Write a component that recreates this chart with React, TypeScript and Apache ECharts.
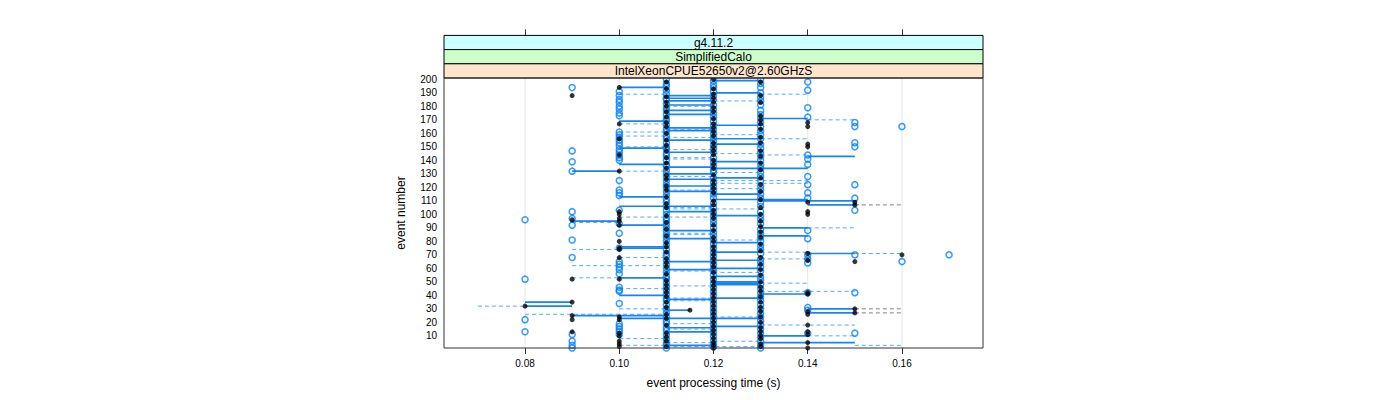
import React, { useEffect, useRef } from "react";
import * as echarts from "echarts";

// ---------- labels ----------
const stripLabels = ["g4.11.2", "SimplifiedCalo", "IntelXeonCPUE52650v2@2.60GHzS"];
const stripColors = ["#CCFFFF", "#CCFFCC", "#FFE5CC"];
const xTickValues = [0.08, 0.1, 0.12, 0.14, 0.16];
const yTickValues = [10, 20, 30, 40, 50, 60, 70, 80, 90, 100, 110, 120, 130, 140, 150, 160, 170, 180, 190, 200];
const xTitle = "event processing time (s)";
const yTitle = "event number";

// ---------- blue open circles: event numbers observed at each time (s) ----------
const blueAt080 = [96, 52, 22, 13];
const blueAt090 = [194, 147, 139, 132, 102, 97, 92, 81, 68, 11, 6, 3, 1];
const blueAt100 = [191, 188, 185, 183, 180, 178, 175, 173, 161, 159, 157, 155, 153, 151, 148, 146, 144, 142, 140, 125, 118, 116, 114, 103, 93, 86, 75, 65, 63, 61, 59, 56, 46, 44, 43, 34, 19, 17, 15, 13, 11];
const blueAt110 = [200, 197, 195, 192, 189, 186, 185, 182, 179, 177, 174, 171, 169, 166, 163, 161, 158, 156, 153, 150, 148, 145, 143, 140, 137, 136, 133, 130, 128, 125, 122, 120, 117, 114, 111, 109, 106, 103, 100, 97, 95, 93, 90, 88, 85, 83, 80, 77, 74, 71, 69, 66, 63, 60, 57, 54, 52, 49, 46, 44, 41, 38, 36, 33, 30, 27, 24, 21, 19, 16, 14, 11, 8, 5, 3, 1];
const blueAt120 = [199, 196, 194, 191, 188, 185, 181, 178, 175, 172, 169, 166, 163, 160, 157, 154, 151, 149, 146, 142, 139, 136, 133, 131, 127, 124, 121, 118, 115, 112, 108, 105, 102, 99, 96, 93, 90, 87, 84, 81, 78, 75, 72, 69, 66, 63, 60, 58, 55, 52, 49, 46, 43, 40, 37, 34, 31, 28, 25, 22, 19, 16, 13, 10, 7, 4, 2];
const blueAt130 = [200, 197, 194, 190, 187, 184, 181, 177, 174, 171, 168, 165, 162, 159, 156, 152, 149, 146, 143, 140, 137, 134, 131, 128, 125, 121, 118, 115, 112, 109, 106, 102, 99, 96, 93, 89, 86, 83, 80, 77, 74, 71, 67, 64, 61, 58, 54, 51, 48, 45, 42, 39, 36, 33, 30, 27, 24, 21, 18, 15, 12, 9, 6, 3, 1];
const blueAt140 = [198, 192, 179, 172, 144, 141, 137, 128, 122, 116, 112, 88, 82, 70, 67, 64, 42, 31, 29, 12];
const blueAt150 = [168, 165, 153, 150, 122, 112, 103, 70, 42, 12];
const blueAt160 = [165, 65];
const blueAt170 = [70];

// ---------- black filled dots ----------
const blackAt080 = [32];
const blackAt090 = [188, 96, 52, 35, 25, 22, 13];
const blackAt100 = [194, 167, 156, 144, 132, 102, 100, 97, 95, 92, 80, 75, 74, 68, 52, 24, 22, 12, 10, 6, 4, 2];
const blackAt110 = [198, 193, 187, 183, 180, 176, 172, 168, 165, 160, 155, 151, 147, 142, 138, 134, 129, 126, 121, 118, 113, 108, 105, 99, 94, 89, 84, 79, 76, 72, 67, 64, 61, 56, 51, 48, 45, 42, 39, 35, 31, 26, 23, 18, 12, 9, 6, 2];
const blackAt115 = [29];
const blackAt120 = [200, 193, 189, 186, 183, 179, 176, 171, 167, 164, 161, 158, 153, 150, 147, 144, 140, 137, 134, 129, 125, 122, 119, 116, 110, 107, 103, 100, 97, 92, 88, 83, 80, 76, 73, 70, 67, 64, 61, 57, 53, 50, 47, 44, 41, 38, 35, 32, 29, 26, 23, 20, 17, 14, 11, 8, 5, 3, 1];
const blackAt130 = [198, 188, 183, 173, 170, 167, 163, 157, 153, 147, 143, 138, 133, 127, 122, 117, 111, 105, 100, 95, 91, 87, 83, 78, 73, 68, 63, 59, 55, 50, 46, 43, 39, 35, 31, 28, 24, 20, 16, 13, 10, 8, 4, 2];
const blackAt140 = [168, 165, 152, 150, 109, 102, 100, 71, 66, 42, 41, 28, 26, 18, 13, 11, 5, 1];
const blackAt150 = [109, 107, 65, 30, 27];
const blackAt160 = [70];

// ---------- horizontal segments: [event, from time, to time] ----------
const solidSegments: [number, number, number][] = [
  [199, 0.12, 0.13], [194, 0.10, 0.11], [190, 0.12, 0.13], [188, 0.11, 0.12], [186, 0.11, 0.12], [184, 0.11, 0.12],
  [181, 0.11, 0.12], [177, 0.11, 0.12], [174, 0.11, 0.12], [171, 0.13, 0.14], [169, 0.10, 0.11], [166, 0.12, 0.13],
  [164, 0.11, 0.12], [162, 0.11, 0.12], [156, 0.12, 0.13], [155, 0.11, 0.12], [152, 0.12, 0.13], [149, 0.10, 0.11],
  [146, 0.11, 0.12], [143, 0.14, 0.15], [139, 0.12, 0.13], [137, 0.10, 0.11], [135, 0.11, 0.12], [134, 0.12, 0.14],
  [132, 0.09, 0.10], [130, 0.11, 0.12], [127, 0.12, 0.13], [126, 0.11, 0.12], [121, 0.11, 0.12], [117, 0.11, 0.12],
  [115, 0.12, 0.13], [113, 0.10, 0.11], [111, 0.12, 0.14], [110, 0.13, 0.15], [107, 0.14, 0.15], [106, 0.10, 0.12],
  [102, 0.11, 0.12], [99, 0.12, 0.13], [95, 0.09, 0.10], [92, 0.10, 0.11], [90, 0.13, 0.14], [88, 0.11, 0.12],
  [84, 0.13, 0.14], [82, 0.11, 0.12], [79, 0.12, 0.13], [76, 0.10, 0.11], [75, 0.10, 0.11], [72, 0.12, 0.13],
  [71, 0.14, 0.15], [66, 0.12, 0.13], [65, 0.11, 0.12], [60, 0.12, 0.13], [59, 0.11, 0.12], [54, 0.12, 0.13],
  [53, 0.10, 0.11], [50, 0.12, 0.13], [49, 0.12, 0.13], [48, 0.12, 0.13], [41, 0.13, 0.14], [40, 0.10, 0.11],
  [38, 0.12, 0.13], [37, 0.11, 0.12], [35, 0.08, 0.09], [32, 0.08, 0.09], [30, 0.14, 0.15], [29, 0.11, 0.115],
  [27, 0.14, 0.15], [25, 0.09, 0.11], [23, 0.10, 0.13], [17, 0.12, 0.13], [16, 0.11, 0.12], [13, 0.11, 0.12],
  [10, 0.13, 0.14], [5, 0.13, 0.15], [3, 0.11, 0.12],
];
const dashedSegments: [number, number, number][] = [
  [189, 0.13, 0.14], [189, 0.10, 0.11], [184, 0.12, 0.13], [180, 0.11, 0.12], [170, 0.14, 0.15], [167, 0.10, 0.11],
  [163, 0.11, 0.12], [161, 0.10, 0.11], [159, 0.12, 0.13], [158, 0.10, 0.11], [157, 0.11, 0.12], [156, 0.13, 0.14],
  [150, 0.10, 0.11], [148, 0.11, 0.12], [145, 0.12, 0.13], [144, 0.13, 0.14], [142, 0.11, 0.12], [141, 0.11, 0.12],
  [132, 0.10, 0.11], [131, 0.12, 0.13], [128, 0.11, 0.12], [125, 0.12, 0.14], [123, 0.12, 0.14], [119, 0.12, 0.13],
  [118, 0.11, 0.12], [105, 0.11, 0.12], [104, 0.11, 0.13], [98, 0.10, 0.12], [94, 0.09, 0.10], [90, 0.14, 0.15],
  [86, 0.11, 0.12], [85, 0.11, 0.12], [81, 0.12, 0.13], [74, 0.09, 0.10], [72, 0.13, 0.14], [71, 0.15, 0.16],
  [68, 0.10, 0.11], [67, 0.13, 0.14], [62, 0.09, 0.11], [58, 0.11, 0.12], [57, 0.12, 0.13], [53, 0.09, 0.10],
  [49, 0.13, 0.14], [47, 0.11, 0.12], [45, 0.10, 0.11], [43, 0.13, 0.15], [38, 0.11, 0.12], [36, 0.11, 0.12],
  [32, 0.07, 0.08], [30, 0.10, 0.11], [26, 0.08, 0.11], [24, 0.12, 0.13], [19, 0.11, 0.12], [18, 0.13, 0.15],
  [15, 0.11, 0.12], [10, 0.14, 0.15], [8, 0.10, 0.11], [6, 0.12, 0.13], [5, 0.11, 0.12], [3, 0.15, 0.16],
  [3, 0.10, 0.11], [2, 0.11, 0.13],
];
const grayDashedSegments: [number, number, number][] = [
  [107, 0.15, 0.16], [30, 0.15, 0.16], [27, 0.15, 0.16],
];

const blueColumns: [number, number[]][] = [
  [0.08, blueAt080], [0.09, blueAt090], [0.10, blueAt100], [0.11, blueAt110], [0.12, blueAt120],
  [0.13, blueAt130], [0.14, blueAt140], [0.15, blueAt150], [0.16, blueAt160], [0.17, blueAt170],
];
const blackColumns: [number, number[]][] = [
  [0.08, blackAt080], [0.09, blackAt090], [0.10, blackAt100], [0.11, blackAt110], [0.115, blackAt115],
  [0.12, blackAt120], [0.13, blackAt130], [0.14, blackAt140], [0.15, blackAt150], [0.16, blackAt160],
];

const toPoints = (cols: [number, number[]][]) =>
  cols.flatMap(([t, evs]) => evs.map((e) => [t, e]));

// ---------- layout ----------
const W = 1400;
const H = 400;
const PL = 444;
const PR = 983;
const PT = 78;
const PB = 348;
const STRIP_H = 14.2;
const XMIN = 0.0628;
const XMAX = 0.1772;
const YMIN = 1;
const YMAX = 201;
const FONT = "'Liberation Sans', Arial, Helvetica, sans-serif";

function segmentSeries(name: string, segs: [number, number, number][], stroke: string, width: number, dash: number[] | null) {
  return {
    type: "custom",
    name,
    coordinateSystem: "cartesian2d",
    xAxisIndex: 0,
    yAxisIndex: 0,
    clip: true,
    silent: true,
    data: segs.map(([e, a, b]) => [a, b, e]),
    encode: { x: [0, 1], y: 2 },
    renderItem: (_params: any, api: any) => {
      const p1 = api.coord([api.value(0), api.value(2)]);
      const p2 = api.coord([api.value(1), api.value(2)]);
      return {
        type: "line",
        shape: { x1: p1[0], y1: p1[1], x2: p2[0], y2: p2[1] },
        style: { stroke, lineWidth: width, lineDash: dash || undefined, fill: null },
      };
    },
  };
}

export default function App() {
  const ref = useRef<HTMLDivElement>(null);
  useEffect(() => {
    if (!ref.current) return;
    const chart = echarts.init(ref.current, null, { renderer: "svg", width: W, height: H });

    const stripGraphics: any[] = [];
    for (let i = 0; i < stripLabels.length; i++) {
      const top = PT - STRIP_H * (stripLabels.length - i);
      stripGraphics.push({
        type: "rect",
        shape: { x: PL, y: top, width: PR - PL, height: STRIP_H },
        style: { fill: stripColors[i], stroke: "#000", lineWidth: 1 },
        z: 10,
      });
      stripGraphics.push({
        type: "text",
        x: (PL + PR) / 2,
        y: top + STRIP_H / 2 + 0.5,
        style: {
          text: stripLabels[i],
          fill: "#000",
          font: `12px ${FONT}`,
          textAlign: "center",
          textVerticalAlign: "middle",
        },
        z: 11,
      });
    }
    stripGraphics.push({
      type: "rect",
      shape: { x: PL, y: PT, width: PR - PL, height: PB - PT },
      style: { fill: null, stroke: "#333", lineWidth: 1 },
      z: 12,
      silent: true,
    });

    const option: any = {
      animation: false,
      backgroundColor: "#fff",
      textStyle: { fontFamily: FONT },
      grid: { left: PL, right: W - PR, top: PT, bottom: H - PB, containLabel: false },
      xAxis: [
        {
          type: "value",
          min: XMIN,
          max: XMAX,
          position: "bottom",
          name: xTitle,
          nameLocation: "middle",
          nameGap: 29,
          nameTextStyle: { fontSize: 12, color: "#000", fontFamily: FONT },
          axisLine: { show: false },
          axisTick: { show: true, length: 6, customValues: xTickValues, lineStyle: { color: "#333" } },
          axisLabel: {
            customValues: xTickValues,
            margin: 10,
            fontSize: 10,
            color: "#000",
            fontFamily: FONT,
            formatter: (v: number) => v.toFixed(2),
          },
          splitLine: { show: false },
        },
        {
          type: "value",
          min: XMIN,
          max: XMAX,
          position: "top",
          offset: PT - (PT - STRIP_H * 3),
          axisLine: { show: false },
          axisTick: { show: true, length: 6, customValues: xTickValues, lineStyle: { color: "#333" } },
          axisLabel: { show: false },
          splitLine: { show: false },
        },
      ],
      yAxis: [
        {
          type: "value",
          min: YMIN,
          max: YMAX,
          name: yTitle,
          nameLocation: "middle",
          nameGap: 37,
          nameRotate: 90,
          nameTextStyle: { fontSize: 12, color: "#000", fontFamily: FONT },
          axisLine: { show: false },
          axisTick: { show: false },
          axisLabel: {
            customValues: yTickValues,
            margin: 7,
            fontSize: 10,
            color: "#000",
            fontFamily: FONT,
          },
          splitLine: { show: false },
        },
      ],
      graphic: stripGraphics,
      series: [
        {
          type: "custom",
          name: "grid",
          coordinateSystem: "cartesian2d",
          silent: true,
          data: xTickValues.map((t) => [t, YMIN]),
          encode: { x: 0, y: 1 },
          renderItem: (_p: any, api: any) => {
            const a = api.coord([api.value(0), YMIN]);
            const b = api.coord([api.value(0), YMAX]);
            return {
              type: "line",
              shape: { x1: a[0], y1: a[1], x2: b[0], y2: b[1] },
              style: { stroke: "#e6e6e6", lineWidth: 1 },
            };
          },
          z: 1,
        },
        { ...segmentSeries("dashed", dashedSegments, "#5aa6ff", 1, [4, 3]), z: 2 },
        { ...segmentSeries("grayDashed", grayDashedSegments, "#808080", 1, [4, 3]), z: 2 },
        { ...segmentSeries("solid", solidSegments, "#1a82f5", 1.7, null), z: 3 },
        {
          type: "scatter",
          name: "blue",
          data: toPoints(blueColumns),
          symbol: "circle",
          symbolSize: 6,
          itemStyle: { color: "rgba(255,255,255,0)", borderColor: "#0080ff", borderWidth: 1.5 },
          z: 4,
          silent: true,
        },
        {
          type: "scatter",
          name: "black",
          data: toPoints(blackColumns),
          symbol: "circle",
          symbolSize: 5,
          itemStyle: { color: "#000" },
          z: 5,
          silent: true,
        },
      ],
    };
    chart.setOption(option);
    return () => chart.dispose();
  }, []);

  return (
    <div
      ref={ref}
      style={{ position: "fixed", left: 0, top: 0, width: W, height: H, background: "#fff" }}
    />
  );
}
